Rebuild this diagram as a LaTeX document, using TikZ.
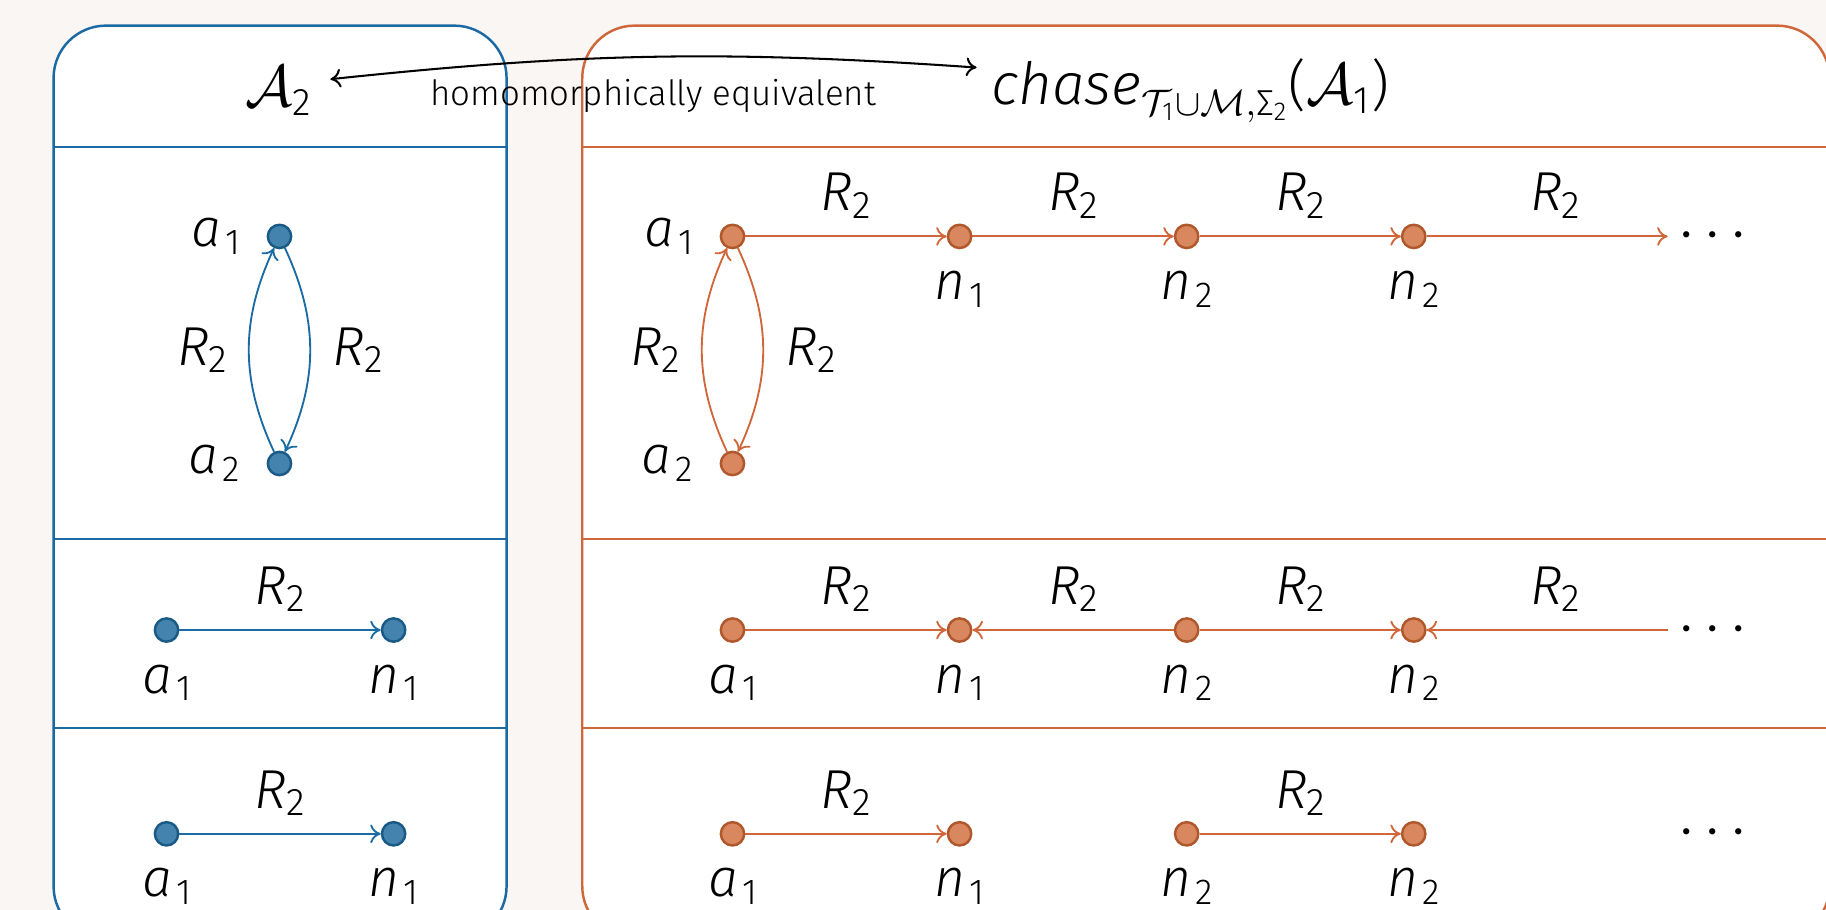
\documentclass[tikz,border=0pt]{standalone}
\usepackage{amsmath}
\usepackage{fontspec}
\IfFontExistsTF{Fira Sans Light}{%
  \setmainfont{Fira Sans Light}[ItalicFont={Fira Sans Light Italic}]}{%
  \setmainfont{Fira Sans}}
\usetikzlibrary{arrows.meta,positioning}
\definecolor{bgc}{HTML}{FAF6F3}
\definecolor{bline}{HTML}{1C6AA3}
\definecolor{bfill}{HTML}{4383AE}
\definecolor{bdraw}{HTML}{1A5A86}
\definecolor{oline}{HTML}{D0673A}
\definecolor{ofill}{HTML}{D8875E}
\definecolor{odraw}{HTML}{B0582C}
\newcommand\myRfont{\fontsize{13.4}{16}\selectfont}
\newcommand\myhomfont{\fontsize{8.5}{10}\selectfont}
\newcommand\Rtwo{{\fontsize{13.4}{16}\selectfont\textit{R}}\kern-0.01em{\fontsize{9.4}{11}\selectfont\raisebox{-1.8pt}{2}}}
\newcommand\lbl[2]{{\fontsize{13}{15}\selectfont\textit{#1}}\kern0.1em{\fontsize{8.8}{10}\selectfont\raisebox{-1.9pt}{#2}}}
\newcommand\chasesub{{\fontsize{12.6}{14}\selectfont$\scriptstyle\mathcal{T}_{\textup{1}}\cup\mathcal{M},\textup{Σ}_{\textup{2}}$}}
\tikzset{
  panelB/.style={draw=bline, fill=white, line width=0.6pt, rounded corners=0.45cm},
  panelO/.style={draw=oline, fill=white, line width=0.6pt, rounded corners=0.45cm},
  sepB/.style={draw=bline, line width=0.6pt},
  sepO/.style={draw=oline, line width=0.6pt},
  bn/.style={circle, fill=bfill, draw=bdraw, line width=0.6pt, minimum size=0.2cm, inner sep=0pt},
  on/.style={circle, fill=ofill, draw=odraw, line width=0.6pt, minimum size=0.2cm, inner sep=0pt},
  eB/.style={draw=bline, line width=0.45pt, -{To[length=0.9mm,width=1.6mm]}},
  eO/.style={draw=oline, line width=0.45pt, -{To[length=0.9mm,width=1.6mm]}},
  rlab/.style={inner sep=0pt, text=black},
  nlab/.style={inner sep=0pt},
  ttl/.style={font=\myRfont, inner sep=0pt},
  dts/.style={font=\myRfont, inner sep=0pt},
  hom/.style={draw=black, line width=0.5pt, {To[length=0.9mm,width=1.6mm]}-{To[length=0.9mm,width=1.6mm]}},
}
\begin{document}
\begin{tikzpicture}[x=0.01cm,y=0.01cm]
\useasboundingbox (0,0) rectangle (1568,-781);
\fill[bgc] (0,0) rectangle (1568,-781);
\begin{scope}
  \clip (0,0) rectangle (1568,-781);
  \draw[panelB] (46,-22) rectangle (435,-806);
  \draw[panelO] (500,-22) rectangle (1571,-806);
\end{scope}
\foreach \yy in {126,463,625} {
  \draw[sepB] (46,-\yy) -- (435,-\yy);
  \draw[sepO] (500,-\yy) -- (1568,-\yy);
}
% titles
\node[ttl] (A2) at (240,-78) {$\mathcal{A}_{\textup{2}}$};
\node[ttl] (chase) at (1022,-78) {{\fontsize{14.2}{16}\selectfont\textit{chase}}\raisebox{-2.6pt}{\chasesub}\textup{(}$\mathcal{A}_{\textup{1}}$\textup{)}};
\draw[hom] ([xshift=0.14cm,yshift=0.1cm]A2.east) to[bend left=5]
  node[font=\myhomfont, inner sep=0pt, yshift=-0.34cm] (homlab) {homomorphically equivalent}
  ([xshift=-0.12cm,yshift=0.2cm]chase.west);

% ---------- left panel ----------
\node[bn] (La1) at (240,-203) {};
\node[bn] (La2) at (240,-398) {};
\node[nlab, left=0.22cm of La1] (tLa1) {\lbl{a}{1}};
\node[nlab, left=0.22cm of La2] (tLa2) {\lbl{a}{2}};
\draw[eB] (La2) to[bend left=25] node[rlab, xshift=-0.40cm] (rLa) {\Rtwo} (La1);
\draw[eB] (La1) to[bend left=25] node[rlab, xshift=0.41cm] (rLb) {\Rtwo} (La2);

\node[bn] (Lb1) at (143,-541) {};
\node[bn] (Lb2) at (338,-541) {};
\draw[eB] (Lb1) -- node[rlab, yshift=0.35cm] (rLc) {\Rtwo} (Lb2);
\node[nlab, below=0.18cm of Lb1] (tLb1) {\lbl{a}{1}};
\node[nlab, below=0.18cm of Lb2] (tLb2) {\lbl{n}{1}};

\node[bn] (Lc1) at (143,-716) {};
\node[bn] (Lc2) at (338,-716) {};
\draw[eB] (Lc1) -- node[rlab, yshift=0.35cm] (rLd) {\Rtwo} (Lc2);
\node[nlab, below=0.18cm of Lc1] (tLc1) {\lbl{a}{1}};
\node[nlab, below=0.18cm of Lc2] (tLc2) {\lbl{n}{1}};

% ---------- right panel, row 1 ----------
\node[on] (Ra1) at (629,-203) {};
\node[on] (Rb1) at (824,-203) {};
\node[on] (Rc1) at (1019,-203) {};
\node[on] (Rd1) at (1214,-203) {};
\node[on] (Ra2) at (629,-398) {};
\coordinate (Re1) at (1432,-203);
\node[dts] (dots1) at (1475,-203) {$\cdots$};
\node[nlab, left=0.22cm of Ra1] (tRa1) {\lbl{a}{1}};
\node[nlab, left=0.22cm of Ra2] (tRa2) {\lbl{a}{2}};
\node[nlab, below=0.18cm of Rb1] (tRb1) {\lbl{n}{1}};
\node[nlab, below=0.18cm of Rc1] (tRc1) {\lbl{n}{2}};
\node[nlab, below=0.18cm of Rd1] (tRd1) {\lbl{n}{2}};
\draw[eO] (Ra1) -- node[rlab, yshift=0.35cm] (r1a) {\Rtwo} (Rb1);
\draw[eO] (Rb1) -- node[rlab, yshift=0.35cm] (r1b) {\Rtwo} (Rc1);
\draw[eO] (Rc1) -- node[rlab, yshift=0.35cm] (r1c) {\Rtwo} (Rd1);
\draw[eO] (Rd1) -- node[rlab, yshift=0.35cm, xshift=0.07cm] (r1d) {\Rtwo} (Re1);
\draw[eO] (Ra2) to[bend left=25] node[rlab, xshift=-0.40cm] (r1e) {\Rtwo} (Ra1);
\draw[eO] (Ra1) to[bend left=25] node[rlab, xshift=0.41cm] (r1f) {\Rtwo} (Ra2);

% ---------- right panel, row 2 ----------
\node[on] (Ra3) at (629,-541) {};
\node[on] (Rb3) at (824,-541) {};
\node[on] (Rc3) at (1019,-541) {};
\node[on] (Rd3) at (1214,-541) {};
\coordinate (Re3) at (1432,-541);
\node[dts] (dots3) at (1475,-541) {$\cdots$};
\node[nlab, below=0.18cm of Ra3] (tRa3) {\lbl{a}{1}};
\node[nlab, below=0.18cm of Rb3] (tRb3) {\lbl{n}{1}};
\node[nlab, below=0.18cm of Rc3] (tRc3) {\lbl{n}{2}};
\node[nlab, below=0.18cm of Rd3] (tRd3) {\lbl{n}{2}};
\draw[eO] (Ra3) -- node[rlab, yshift=0.35cm] (r3a) {\Rtwo} (Rb3);
\draw[eO] (Rc3) -- node[rlab, yshift=0.35cm] (r3b) {\Rtwo} (Rb3);
\draw[eO] (Rc3) -- node[rlab, yshift=0.35cm] (r3c) {\Rtwo} (Rd3);
\draw[eO] (Re3) -- node[rlab, yshift=0.35cm, xshift=0.07cm] (r3d) {\Rtwo} (Rd3);

% ---------- right panel, row 3 ----------
\node[on] (Ra4) at (629,-716) {};
\node[on] (Rb4) at (824,-716) {};
\node[on] (Rc4) at (1019,-716) {};
\node[on] (Rd4) at (1214,-716) {};
\node[dts] (dots4) at (1475,-716) {$\cdots$};
\node[nlab, below=0.18cm of Ra4] (tRa4) {\lbl{a}{1}};
\node[nlab, below=0.18cm of Rb4] (tRb4) {\lbl{n}{1}};
\node[nlab, below=0.18cm of Rc4] (tRc4) {\lbl{n}{2}};
\node[nlab, below=0.18cm of Rd4] (tRd4) {\lbl{n}{2}};
\draw[eO] (Ra4) -- node[rlab, yshift=0.35cm] (r4a) {\Rtwo} (Rb4);
\draw[eO] (Rc4) -- node[rlab, yshift=0.35cm] (r4b) {\Rtwo} (Rd4);
\end{tikzpicture}
\end{document}
